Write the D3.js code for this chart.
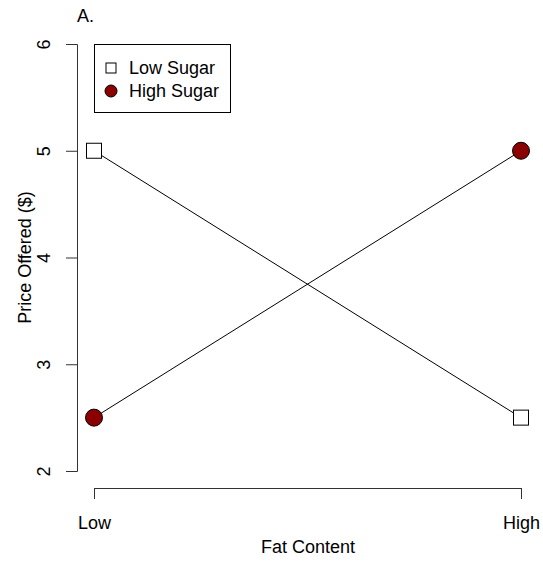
<!DOCTYPE html>
<html>
<head>
<meta charset="utf-8">
<script src="https://cdn.jsdelivr.net/npm/d3@7"></script>
<style>
  body { margin: 0; background: #fff; }
  svg { display: block; font-family: "Liberation Sans", Arial, sans-serif; }
</style>
</head>
<body>
<svg id="chart" width="543" height="563"></svg>
<script>
// data
const fatLevels = ["Low", "High"];
const lowSugar = [5, 2.5];
const highSugar = [2.5, 5];
const yTicks = [2, 3, 4, 5, 6];
const seriesNames = ["Low Sugar", "High Sugar"];

const svg = d3.select("#chart");
const fontSize = 18;

// scales
const x = d3.scalePoint().domain(fatLevels).range([94, 521]);
const y = d3.scaleLinear().domain([2, 6]).range([471, 44]);

// y axis (R style, rotated labels)
const gY = svg.append("g")
    .attr("transform", "translate(77,0)")
    .call(d3.axisLeft(y).tickValues(yTicks).tickSize(11).tickSizeOuter(11).tickFormat(d3.format("d")));
gY.selectAll("path, line").attr("stroke", "#333");
gY.selectAll("text")
    .attr("x", null).attr("dy", null)
    .attr("transform", "translate(-27,0) rotate(-90)")
    .attr("text-anchor", "middle")
    .attr("fill", "#000")
    .attr("font-size", fontSize)
    .attr("font-family", "Liberation Sans, Arial, sans-serif");

// x axis
const gX = svg.append("g")
    .attr("transform", "translate(0,488)")
    .call(d3.axisBottom(x).tickSize(11).tickSizeOuter(11));
gX.selectAll("path, line").attr("stroke", "#333");
gX.selectAll("text")
    .attr("y", 41).attr("dy", null)
    .attr("fill", "#000")
    .attr("font-size", fontSize)
    .attr("font-family", "Liberation Sans, Arial, sans-serif");

// axis titles
svg.append("text")
    .attr("x", 308).attr("y", 553)
    .attr("text-anchor", "middle")
    .attr("font-size", fontSize)
    .text("Fat Content");

svg.append("text")
    .attr("transform", "translate(31," + ((y(2) + y(6)) / 2) + ") rotate(-90)")
    .attr("text-anchor", "middle")
    .attr("font-size", fontSize)
    .text("Price Offered ($)");

// panel title
svg.append("text")
    .attr("x", 77).attr("y", 22)
    .attr("font-size", fontSize)
    .text("A.");

// lines
const line = d3.line()
    .x((d, i) => x(fatLevels[i]))
    .y(d => y(d));

[lowSugar, highSugar].forEach(s => {
  svg.append("path")
      .attr("d", line(s))
      .attr("fill", "none")
      .attr("stroke", "#000")
      .attr("stroke-width", 1);
});

// low sugar squares
svg.selectAll(".sq")
    .data(lowSugar)
    .enter()
    .append("rect")
      .attr("x", (d, i) => x(fatLevels[i]) - 7.5)
      .attr("y", d => y(d) - 7.5)
      .attr("width", 15)
      .attr("height", 15)
      .attr("fill", "#fff")
      .attr("stroke", "#000");

// high sugar circles
svg.selectAll(".dot")
    .data(highSugar)
    .enter()
    .append("circle")
      .attr("cx", (d, i) => x(fatLevels[i]))
      .attr("cy", d => y(d))
      .attr("r", 8.5)
      .attr("fill", "#8b0000")
      .attr("stroke", "#000");

// legend
const legend = svg.append("g");
legend.append("rect")
    .attr("x", 94.5).attr("y", 44.5)
    .attr("width", 136).attr("height", 68)
    .attr("fill", "#fff")
    .attr("stroke", "#000");

legend.append("rect")
    .attr("x", 106).attr("y", 63)
    .attr("width", 10).attr("height", 10)
    .attr("fill", "#fff")
    .attr("stroke", "#000");

legend.append("circle")
    .attr("cx", 111).attr("cy", 91)
    .attr("r", 6)
    .attr("fill", "#8b0000")
    .attr("stroke", "#000");

legend.selectAll(".lbl")
    .data(seriesNames)
    .enter()
    .append("text")
      .attr("x", 129)
      .attr("y", (d, i) => 74 + i * 23)
      .attr("font-size", fontSize)
      .text(d => d);
</script>
</body>
</html>
